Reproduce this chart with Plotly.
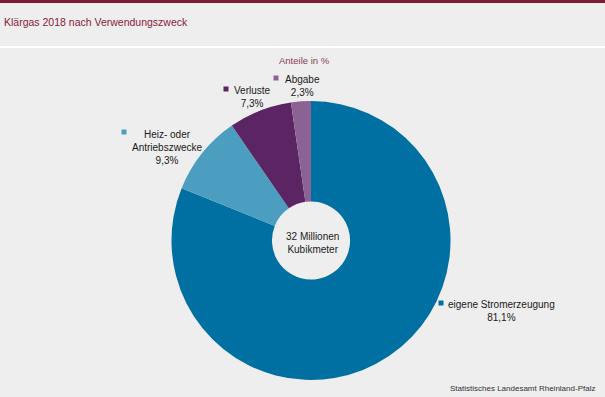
import plotly.graph_objects as go

W, H = 605, 397

categories = ["eigene Stromerzeugung", "Heiz- oder<br>Antriebszwecke", "Verluste", "Abgabe"]
values = [81.1, 9.3, 7.3, 2.3]
colors = ["#0070A3", "#4B9EC0", "#5B2462", "#8A6394"]
title_text = "Klärgas 2018 nach Verwendungszweck"
subtitle_text = "Anteile in %"
center_text = "32 Millionen<br>Kubikmeter"
source_text = "Statistisches Landesamt Rheinland-Pfalz"

# label layout (pixel positions): square x, square y, text center x, text top y
label_pos = [
    (441, 303, 501, 297),
    (124, 132, 167, 127),
    (226, 89, 252, 83),
    (276, 78, 302, 72),
]

def px(x):
    return x / W

def py(y):
    return 1 - y / H

cx, cy, r = 311, 240.5, 139.5

fig = go.Figure()
fig.add_trace(go.Pie(
    labels=categories,
    values=values,
    marker=dict(colors=colors, line=dict(width=0)),
    sort=False,
    direction="clockwise",
    rotation=0,
    hole=0.28,
    textinfo="none",
    hoverinfo="label+percent",
    showlegend=False,
    domain=dict(x=[px(cx - r), px(cx + r)], y=[py(cy + r), py(cy - r)]),
))

font = "Liberation Sans, Arial, sans-serif"
annotations = []
shapes = []

shapes.append(dict(type="rect", xref="paper", yref="paper", x0=0, x1=1, y0=py(3), y1=1,
                   fillcolor="#7E1A33", line=dict(width=0)))
shapes.append(dict(type="rect", xref="paper", yref="paper", x0=0, x1=1, y0=py(48), y1=py(46),
                   fillcolor="#FFFFFF", line=dict(width=0)))

annotations.append(dict(text=title_text, x=px(2), y=py(22), xref="paper", yref="paper",
                        xanchor="left", yanchor="middle", showarrow=False,
                        font=dict(family=font, size=10.5, color="#8B1A3C")))
annotations.append(dict(text=subtitle_text, x=px(304), y=py(60), xref="paper", yref="paper",
                        xanchor="center", yanchor="middle", showarrow=False,
                        font=dict(family=font, size=9.5, color="#8B3A5C")))
annotations.append(dict(text=center_text, x=px(312), y=py(243), xref="paper", yref="paper",
                        xanchor="center", yanchor="middle", showarrow=False,
                        font=dict(family=font, size=10, color="#222222")))
annotations.append(dict(text=source_text, x=px(597), y=py(388), xref="paper", yref="paper",
                        xanchor="right", yanchor="middle", showarrow=False,
                        font=dict(family=font, size=8, color="#333333")))

for cat, val, col, (sx, sy, tx, ty) in zip(categories, values, colors, label_pos):
    s = 2.5
    shapes.append(dict(type="rect", xref="paper", yref="paper",
                       x0=px(sx - s), x1=px(sx + s), y0=py(sy + s), y1=py(sy - s),
                       fillcolor=col, line=dict(width=0)))
    pct = f"{val:.1f}".replace(".", ",") + "%"
    annotations.append(dict(text=f"{cat}<br>{pct}", x=px(tx), y=py(ty), xref="paper", yref="paper",
                            xanchor="center", yanchor="top", align="center", showarrow=False,
                            font=dict(family=font, size=10, color="#1A1A1A")))

fig.update_layout(
    width=W, height=H,
    margin=dict(l=0, r=0, t=0, b=0),
    paper_bgcolor="#EDEEED",
    plot_bgcolor="#EDEEED",
    annotations=annotations,
    shapes=shapes,
)

fig.write_html("out.html",
               config={"displayModeBar": False},
               post_script="document.body.style.margin='0';document.body.style.padding='0';document.body.style.overflow='hidden';")
